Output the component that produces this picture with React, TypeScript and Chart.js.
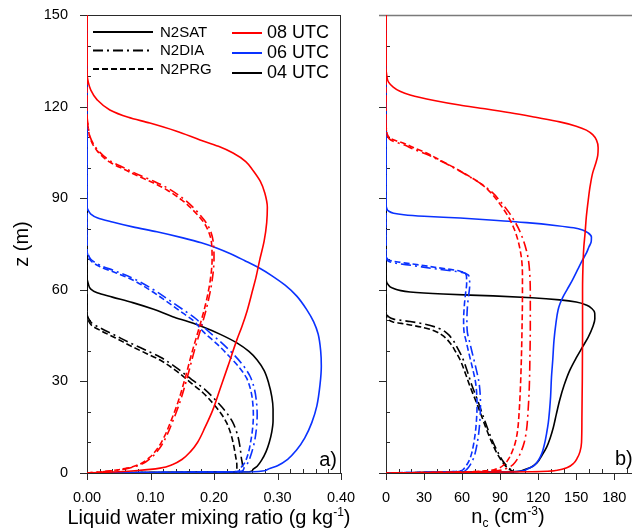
import React, { useEffect, useRef } from 'react';
import { Chart, registerables } from 'chart.js';

Chart.register(...registerables);

type P = [number, number]; // [value, height z (m)]

// ---------- Panel a: liquid water mixing ratio (g/kg) ----------
const lwc08Sat: P[] = [[0,150],[0,131],[0.002,128],[0.006,125.4],[0.016,122.2],[0.036,118.9],[0.065,116.5],[0.099,114.6],[0.14,112],[0.178,109.1],[0.207,107],[0.23,104.8],[0.25,102],[0.261,99.2],[0.273,95.5],[0.28,91.7],[0.284,87],[0.283,82],[0.279,76],[0.272,69.8],[0.266,64],[0.261,60],[0.252,53],[0.244,48],[0.236,43.6],[0.222,35],[0.209,27.2],[0.198,20.6],[0.186,15],[0.174,10],[0.163,7],[0.15,4.5],[0.135,2.8],[0.115,1.6],[0.08,0.8],[0.05,0.4],[0,0]];
const lwc08Dia: P[] = [[0,150],[0,117.5],[0.002,113.5],[0.005,110],[0.016,106],[0.036,102.3],[0.06,99.8],[0.083,97.5],[0.106,95.5],[0.128,93.2],[0.152,89.8],[0.169,86.6],[0.184,83],[0.193,80],[0.199,75.5],[0.2,70],[0.197,63],[0.19,55.5],[0.18,47.8],[0.169,40],[0.158,31.4],[0.146,23],[0.134,16.4],[0.125,12],[0.114,8],[0.101,5],[0.085,2.8],[0.066,1.6],[0.043,0.8],[0.022,0.35],[0,0]];
const lwc08Prg: P[] = [[0,150],[0,117],[0.002,113],[0.005,109.5],[0.016,105.5],[0.036,101.8],[0.06,99.3],[0.083,97],[0.105,95],[0.126,92.7],[0.15,89.3],[0.167,86.1],[0.182,82.6],[0.19,79.8],[0.196,75.5],[0.197,70],[0.194,63],[0.187,55.5],[0.177,47.8],[0.166,40],[0.155,31.4],[0.143,23],[0.131,16.4],[0.122,12],[0.111,8],[0.098,5],[0.082,2.8],[0.063,1.6],[0.04,0.8],[0.02,0.35],[0,0]];
const lwc06Sat: P[] = [[0,150],[0,87],[0.002,86],[0.006,84.8],[0.016,83.6],[0.04,82.2],[0.072,80.6],[0.11,79],[0.151,77],[0.18,75.4],[0.204,73.7],[0.226,71.8],[0.248,69.6],[0.27,67.3],[0.292,64.5],[0.312,61.5],[0.33,58],[0.346,53.5],[0.357,49.5],[0.364,45.5],[0.368,40],[0.369,35],[0.367,29],[0.362,22],[0.354,16.5],[0.343,11.5],[0.33,7.5],[0.316,4.5],[0.3,2.4],[0.283,1],[0.262,0.4],[0,0]];
const lwc06Dia: P[] = [[0,150],[0,73.5],[0.002,71.5],[0.006,70],[0.02,68.1],[0.045,66.1],[0.072,63.8],[0.102,60.4],[0.131,56.4],[0.154,53.1],[0.171,50.6],[0.188,47],[0.21,43],[0.231,38.8],[0.246,35.2],[0.257,31.6],[0.264,27.2],[0.267,23],[0.268,19],[0.267,15],[0.264,10.5],[0.259,6.5],[0.253,3.2],[0.247,1.4],[0.243,0.5],[0,0]];
const lwc06Prg: P[] = [[0,150],[0,73],[0.002,71],[0.006,69.5],[0.02,67.6],[0.045,65.6],[0.072,63.2],[0.1,59.8],[0.128,55.8],[0.15,52.5],[0.167,50],[0.183,46.3],[0.205,42.2],[0.225,38],[0.24,34.5],[0.251,31.2],[0.258,27],[0.261,23],[0.262,19],[0.261,15],[0.258,10.5],[0.254,6.5],[0.248,3.2],[0.242,1.4],[0.237,0.5],[0,0]];
const lwc04Sat: P[] = [[0,150],[0,64],[0.002,62],[0.006,60.2],[0.016,59],[0.04,57.6],[0.072,55.8],[0.105,53.6],[0.135,51.2],[0.16,49.5],[0.183,47.8],[0.21,45.4],[0.236,42.6],[0.255,39.8],[0.268,37],[0.279,33.5],[0.286,29.5],[0.291,25],[0.293,21],[0.293,17],[0.291,13.5],[0.287,10],[0.282,7],[0.275,4.2],[0.268,2.2],[0.261,1],[0.256,0.4],[0,0]];
const lwc04Dia: P[] = [[0,150],[0,52],[0.002,50.8],[0.008,49],[0.02,47.6],[0.045,45],[0.072,42.2],[0.095,40],[0.115,38],[0.14,34.6],[0.165,30.6],[0.185,27.5],[0.202,24],[0.217,20.5],[0.229,16.8],[0.237,12.5],[0.241,8.5],[0.243,5],[0.245,2.3],[0.245,1],[0.244,0.4],[0,0]];
const lwc04Prg: P[] = [[0,150],[0,51.5],[0.002,50],[0.008,48.2],[0.02,46.8],[0.045,44.2],[0.072,41.3],[0.095,39],[0.115,37],[0.14,33.5],[0.165,29.3],[0.183,26.2],[0.198,22.9],[0.211,19.5],[0.22,16.4],[0.227,12.5],[0.231,9],[0.234,5.5],[0.236,2.5],[0.236,1],[0.234,0.4],[0,0]];

// ---------- Panel b: cloud droplet number concentration (cm^-3) ----------
const nc08Sat: P[] = [[0,150],[0,133],[0.5,130.5],[2,128],[5.7,126.4],[11,125],[19,123.8],[38,122],[58,120.5],[78,119.3],[98,118],[118,116.5],[137,115],[150,113.6],[158,112.3],[163,110.8],[166,109],[167.3,106.5],[167,104],[165.5,101.5],[163,98.3],[161,94],[159.5,89.4],[158,84],[157,78.6],[156,74],[155.5,69.8],[155,60],[155,45],[154.8,30],[154.5,18],[154.2,10],[153,7],[151,5],[148,3.2],[143,1.8],[135,0.9],[115,0.4],[0,0]];
const nc08Dia: P[] = [[0,150],[0,114.5],[0.5,111.5],[1.5,110],[4,109],[8,108.3],[14,107.5],[22,106],[33,104.2],[44,102],[55,99.6],[66,97],[76,94.4],[84,91.8],[90.5,88.8],[96.5,85.6],[101.5,82.4],[105.5,79.2],[108.5,76],[110.8,72.8],[112.3,69.8],[113.4,65],[113.8,58],[113.8,48],[113.5,38],[113,28],[112,20],[110.8,14],[109,10],[106.5,7],[103.5,4.5],[100,2.7],[95,1.5],[85,0.7],[60,0.3],[0,0]];
const nc08Prg: P[] = [[0,150],[0,115],[0.5,112],[1.5,110.5],[4,109.5],[8,108.8],[14,108],[22,106.5],[32,104.8],[42,102.6],[53,100.2],[64,97.6],[74,95],[81,92.5],[87.5,89.4],[93,86.2],[97.8,82.9],[101.5,79.5],[104,76.3],[105.8,73],[107,69.8],[107.6,65],[107.6,58],[107.3,48],[106.8,38],[106,28],[105,20],[103.8,14],[102,10],[99.5,7],[96.5,4.5],[93,2.7],[88,1.5],[78,0.7],[55,0.3],[0,0]];
const nc06Sat: P[] = [[0,150],[0,88],[0.5,86.8],[2,85.8],[6,85.1],[14,84.6],[30,84.1],[58.5,83.5],[85,82.8],[111,82],[135,81],[148,80.3],[155,79.6],[159.5,78.6],[162,77.3],[161.8,75.7],[160,74],[158,72],[155,69.8],[151,66.5],[147,63.2],[143,60.2],[139.5,57.6],[137.2,55.4],[135.7,53.4],[134,49],[132.5,43.5],[131.5,37],[130.5,31.4],[129.8,25],[129,20.6],[128,16.5],[126.7,13.1],[125,9.5],[123,6.5],[120,4],[116,2.2],[110,1],[100,0.4],[0,0]];
const nc06Dia: P[] = [[0,150],[0,71.5],[0.5,70.3],[2,69.3],[8,68.7],[20,68],[40,66.8],[60,65.7],[64.3,65],[65.8,63.8],[66,61.5],[65.3,58.5],[64.3,55],[63.8,50],[64.2,46],[65.6,43.5],[68.2,39],[71.3,33.7],[73.2,30],[74.2,26.2],[74.5,22],[74.2,18.3],[73.5,14.5],[72.7,11.8],[71.6,9],[70.3,6.5],[68.5,4.3],[66.3,2.6],[63.7,1.2],[57,0.5],[0,0]];
const nc06Prg: P[] = [[0,150],[0,72],[0.5,70.8],[2,69.8],[8,69.2],[20,68.5],[40,67.3],[58.5,66.1],[62,65.5],[63.5,64.3],[63.6,62],[62.8,59],[61.8,55],[61.2,50],[61.6,46],[63,43.5],[65.5,39],[68.6,33.7],[70.5,30],[71.5,26.2],[71.8,22],[71.5,18.3],[70.8,14.5],[70,11.8],[68.9,9],[67.6,6.5],[65.8,4.3],[63.6,2.6],[61,1.2],[55,0.5],[0,0]];
const nc04Sat: P[] = [[0,150],[0,64],[0.5,62.5],[1.5,61.8],[5,60.6],[19,59.3],[45,58.6],[84.5,58],[115,57.4],[137,56.7],[150,56],[158,55],[162.5,53.8],[164.6,52.4],[164.7,50.5],[163,47.8],[159.5,44.5],[155,41.3],[150,37.7],[145,33.7],[140.5,28.8],[137,23.9],[134.3,19.2],[132,15],[129.5,11.5],[126.7,8.5],[123,5.8],[119,3.3],[114,1.8],[108,0.9],[100,0.4],[0,0]];
const nc04Dia: P[] = [[0,150],[0,53],[0.5,52],[2,51.2],[6,50.4],[12,50],[19,49.6],[30,48.8],[41,47.5],[48,45.8],[52.5,43.7],[56.5,40.8],[60,38],[64,33.5],[67.5,29],[70,26.2],[72.5,23.5],[76.3,19],[80.2,14.5],[84,10.5],[88,7],[92,4],[95.5,2.2],[98.5,1.1],[100.5,0.5],[0,0]];
const nc04Prg: P[] = [[0,150],[0,52],[0.5,51],[2,50.2],[6,49.4],[12,49],[19,48.5],[30,47.6],[40,46.2],[46,44.6],[50.5,42.6],[54.8,39.8],[58.5,37],[62.7,32.5],[66.4,28.2],[69,25.5],[71.5,22.9],[75.5,18.5],[79.5,14],[83.5,10],[87.5,6.5],[91.5,3.8],[95,2],[98,1],[100,0.5],[0,0]];

// ---------- labels ----------
const methodLabels = ['N2SAT', 'N2DIA', 'N2PRG'];
const timeLabels = ['08 UTC', '06 UTC', '04 UTC'];
const lwcTickStep = 0.1;
const lwcMax = 0.4;
const ncTickStep = 30;
const ncMax = 194;
const zTickStep = 30;
const zMax = 150;

const FONT = '"Liberation Sans", Arial, Helvetica, sans-serif';
const RED = '#ff0000';
const BLUE = '#0a32ff';
const BLACK = '#000000';
const timeColors = [RED, BLUE, BLACK];
const SOLID: number[] = [];
const DASHDOT = [10, 4, 2, 4];
const DASH = [6, 3];
const methodDashes = [SOLID, DASHDOT, DASH];

Chart.defaults.font.family = FONT;
Chart.defaults.color = '#000';

const mkSets = (groups: P[][][]) => {
  const out: any[] = [];
  groups.forEach((grp, ti) => {
    grp.forEach((data, mi) => {
      out.push({
        label: `${methodLabels[mi]} ${timeLabels[ti]}`,
        data: data.map(([x, y]) => ({ x, y })),
        borderColor: timeColors[ti],
        backgroundColor: timeColors[ti],
        borderDash: methodDashes[mi],
        borderWidth: 1.6,
        pointRadius: 0,
        fill: false,
        cubicInterpolationMode: 'monotone',
      });
    });
  });
  return out;
};

interface Deco { xMajor: number; xMinor: number; xEnd: number; yMajor: number; yMinor: number; yEnd: number; box: boolean }

const drawDeco = (chart: any, d: Deco) => {
  const ctx = chart.ctx;
  const a = chart.chartArea;
  const xs = chart.scales.x, ys = chart.scales.y;
  const L = Math.round(a.left), R = Math.round(a.right), T = Math.round(a.top), B = Math.round(a.bottom);
  ctx.save();
  ctx.setLineDash([]);
  ctx.globalAlpha = 1;
  ctx.lineWidth = 1;
  ctx.strokeStyle = '#2a2a2a';
  // frame
  ctx.beginPath();
  ctx.moveTo(L + 0.5, T);
  ctx.lineTo(L + 0.5, B + 1);
  ctx.moveTo(L, B + 0.5);
  ctx.lineTo(d.box ? R : chart.width, B + 0.5);
  if (d.box) {
    ctx.moveTo(L - 7, T + 0.5);
    ctx.lineTo(R, T + 0.5);
    ctx.moveTo(R - 0.5, T);
    ctx.lineTo(R - 0.5, B + 1);
  }
  ctx.stroke();
  const isMajor = (v: number, step: number) => Math.abs(v / step - Math.round(v / step)) < 1e-6;
  ctx.beginPath();
  const nx = Math.round(d.xEnd / d.xMinor);
  for (let i = 0; i <= nx; i++) {
    const v = i * d.xMinor;
    const px = Math.round(xs.getPixelForValue(v)) + 0.5;
    if (isMajor(v, d.xMajor)) { ctx.moveTo(px, B); ctx.lineTo(px, B + 7); }
    else { ctx.moveTo(px, B); ctx.lineTo(px, B - 4); }
  }
  const ny = Math.round(d.yEnd / d.yMinor);
  for (let i = 0; i <= ny; i++) {
    const v = i * d.yMinor;
    const py = Math.round(ys.getPixelForValue(v)) + 0.5;
    if (isMajor(v, d.yMajor)) { ctx.moveTo(L + 1, py); ctx.lineTo(L - 7, py); }
    else { ctx.moveTo(L, py); ctx.lineTo(L + 4, py); }
  }
  ctx.stroke();
  if (!d.box) {
    ctx.beginPath();
    ctx.strokeStyle = '#7a7a7a';
    ctx.lineWidth = 1.6;
    ctx.moveTo(L - 7, T + 0.5);
    ctx.lineTo(chart.width, T + 0.5);
    ctx.stroke();
  }
  ctx.restore();
};

const decoPlugin = (name: string, d: Deco) => ({
  id: name,
  beforeDatasetsDraw(chart: any) { drawDeco(chart, d); },
});

type Part = [string, number, number];
const richText = (ctx: any, parts: Part[], cx: number, baseline: number) => {
  let total = 0;
  for (const [t, s] of parts) { ctx.font = `${s}px ${FONT}`; total += ctx.measureText(t).width; }
  let x = cx - total / 2;
  ctx.textAlign = 'left';
  ctx.textBaseline = 'alphabetic';
  for (const [t, s, dy] of parts) {
    ctx.font = `${s}px ${FONT}`;
    ctx.fillText(t, x, baseline + dy);
    x += ctx.measureText(t).width;
  }
};

const textPluginA = {
  id: 'textA',
  afterDraw(chart: any) {
    const ctx = chart.ctx;
    ctx.save();
    ctx.fillStyle = '#000';
    richText(ctx, [['Liquid water mixing ratio (g kg', 20, 0], ['-1', 12, -8], [')', 20, 0]], 209, 524);
    const my = [32, 50.5, 69];
    methodLabels.forEach((lab, i) => {
      ctx.beginPath();
      ctx.strokeStyle = BLACK;
      ctx.lineWidth = 2;
      ctx.setLineDash(methodDashes[i]);
      ctx.moveTo(93, my[i]); ctx.lineTo(153, my[i]);
      ctx.stroke();
      ctx.setLineDash([]);
      ctx.font = `15px ${FONT}`;
      ctx.textAlign = 'left';
      ctx.textBaseline = 'middle';
      ctx.fillText(lab, 160, my[i] + 0.5);
    });
    const ty = [33, 53, 73];
    timeLabels.forEach((lab, i) => {
      ctx.beginPath();
      ctx.strokeStyle = timeColors[i];
      ctx.lineWidth = 2;
      ctx.moveTo(232, ty[i]); ctx.lineTo(262, ty[i]);
      ctx.stroke();
      ctx.font = `18px ${FONT}`;
      ctx.textAlign = 'left';
      ctx.textBaseline = 'middle';
      ctx.fillStyle = '#000';
      ctx.fillText(lab, 267, ty[i] + 0.5);
    });
    ctx.font = `20px ${FONT}`;
    ctx.textAlign = 'right';
    ctx.textBaseline = 'middle';
    ctx.fillText('a)', 337, 460);
    ctx.restore();
  },
};

const textPluginB = {
  id: 'textB',
  afterDraw(chart: any) {
    const ctx = chart.ctx;
    ctx.save();
    ctx.fillStyle = '#000';
    richText(ctx, [['n', 20, 0], ['c', 12, 4], [' (cm', 20, 0], ['-3', 12, -8], [')', 20, 0]], 148, 523);
    ctx.font = `20px ${FONT}`;
    ctx.textAlign = 'left';
    ctx.textBaseline = 'middle';
    ctx.fillText('b)', 255, 459);
    ctx.restore();
  },
};

const tickFont = { size: 14.5, family: FONT };

const fixBox = (w: number | null, h: number | null) => (s: any) => {
  if (w !== null) s.width = w;
  if (h !== null) s.height = h;
  s.paddingLeft = 0; s.paddingRight = 0; s.paddingTop = 0; s.paddingBottom = 0;
};

const baseOptions = (padding: any) => ({
  responsive: false,
  maintainAspectRatio: false,
  animation: false,
  indexAxis: 'y',
  layout: { padding },
  plugins: { legend: { display: false }, tooltip: { enabled: false } },
  elements: { point: { radius: 0 } },
});

const configA: any = {
  type: 'line',
  data: { datasets: mkSets([[lwc08Sat, lwc08Dia, lwc08Prg], [lwc06Sat, lwc06Dia, lwc06Prg], [lwc04Sat, lwc04Dia, lwc04Prg]]) },
  options: {
    ...baseOptions({ left: 0, right: 19, top: 15, bottom: 0 }),
    scales: {
      x: {
        type: 'linear', position: 'bottom', min: 0, max: lwcMax,
        grid: { display: false, drawTicks: false }, border: { display: false },
        ticks: { stepSize: lwcTickStep, padding: 16, includeBounds: false, font: tickFont, color: '#000', maxRotation: 0, autoSkip: false, callback: (v: any) => Number(v).toFixed(2) },
        afterFit: fixBox(null, 57),
      },
      y: {
        type: 'linear', position: 'left', min: 0, max: zMax,
        grid: { display: false, drawTicks: false }, border: { display: false },
        ticks: { stepSize: zTickStep, padding: 19, includeBounds: false, font: tickFont, color: '#000' },
        title: { display: true, text: 'z (m)', font: { size: 20, family: FONT }, color: '#000', padding: { top: 10, bottom: 0 } },
        afterFit: fixBox(87, null),
      },
    },
  },
  plugins: [decoPlugin('decoA', { xMajor: 0.1, xMinor: 0.02, xEnd: 0.4, yMajor: 30, yMinor: 10, yEnd: 150, box: true }), textPluginA],
};

const configB: any = {
  type: 'line',
  data: { datasets: mkSets([[nc08Sat, nc08Dia, nc08Prg], [nc06Sat, nc06Dia, nc06Prg], [nc04Sat, nc04Dia, nc04Prg]]) },
  options: {
    ...baseOptions({ left: 0, right: 0, top: 15, bottom: 0 }),
    scales: {
      x: {
        type: 'linear', position: 'bottom', min: 0, max: ncMax,
        grid: { display: false, drawTicks: false }, border: { display: false },
        ticks: { stepSize: ncTickStep, padding: 16, includeBounds: false, font: tickFont, color: '#000', maxRotation: 0, autoSkip: false },
        afterFit: fixBox(null, 57),
      },
      y: {
        type: 'linear', position: 'left', min: 0, max: zMax,
        grid: { display: false, drawTicks: false }, border: { display: false },
        ticks: { display: false, stepSize: zTickStep },
        afterFit: fixBox(26, null),
      },
    },
  },
  plugins: [decoPlugin('decoB', { xMajor: 30, xMinor: 10, xEnd: 190, yMajor: 30, yMinor: 10, yEnd: 150, box: false }), textPluginB],
};

export default function App() {
  const refA = useRef<HTMLCanvasElement>(null);
  const refB = useRef<HTMLCanvasElement>(null);
  useEffect(() => {
    const a = new Chart(refA.current as HTMLCanvasElement, configA);
    const b = new Chart(refB.current as HTMLCanvasElement, configB);
    return () => { a.destroy(); b.destroy(); };
  }, []);
  return (
    <div style={{ position: 'fixed', left: 0, top: 0, width: 632, height: 530, background: '#fff', overflow: 'hidden' }}>
      <canvas ref={refA} width={360} height={530} style={{ position: 'absolute', left: 0, top: 0, width: 360, height: 530 }} />
      <canvas ref={refB} width={272} height={530} style={{ position: 'absolute', left: 360, top: 0, width: 272, height: 530 }} />
    </div>
  );
}
